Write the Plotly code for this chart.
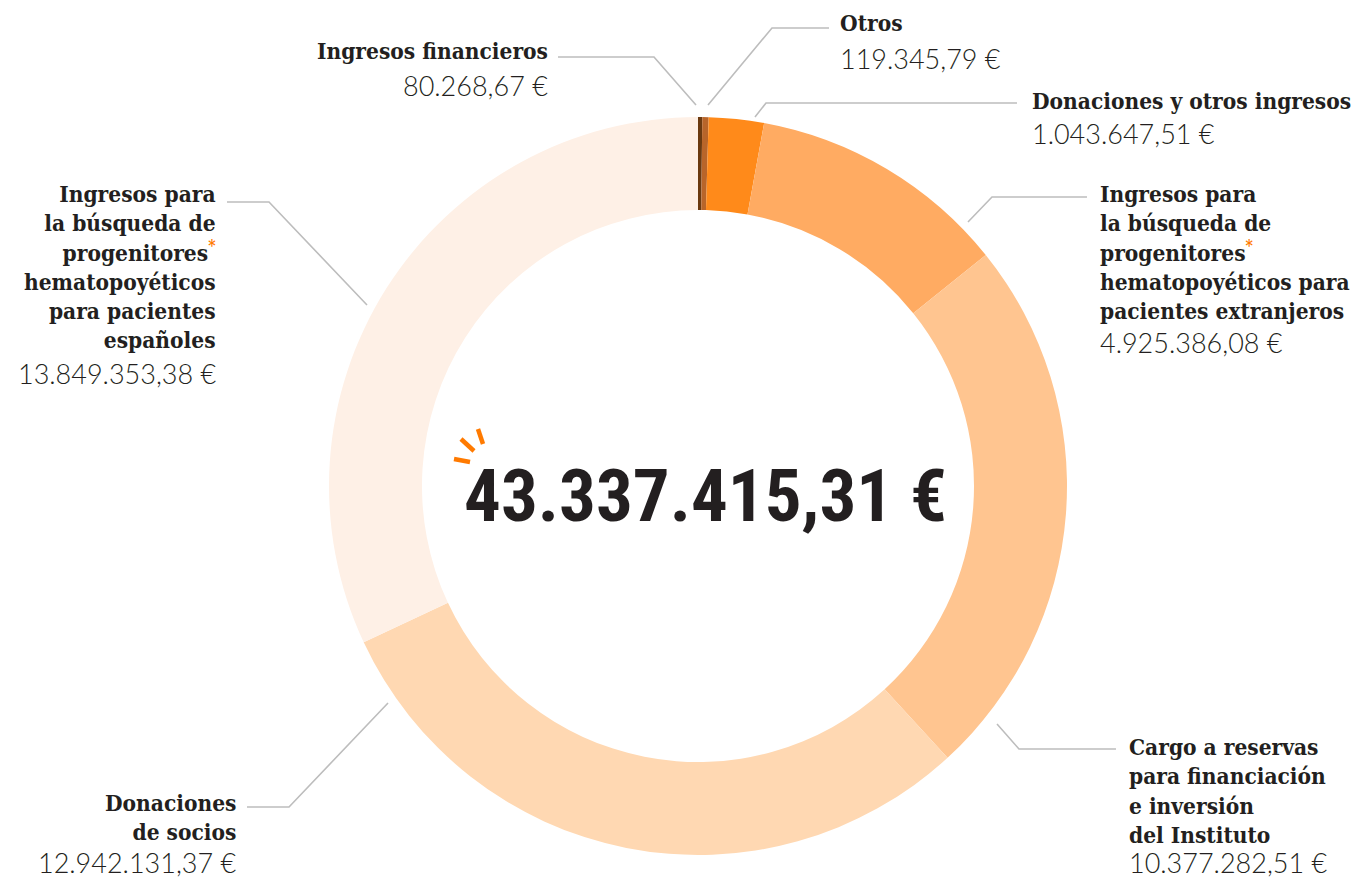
import plotly.graph_objects as go

# Datos: ingresos por concepto (sentido horario desde las 12)
AST = "<sup><span style='color:#FF7A00'>*</span></sup>"
categorias = [
    "Ingresos financieros",
    "Otros",
    "Donaciones y otros ingresos",
    f"Ingresos para<br>la búsqueda de<br>progenitores{AST}<br>hematopoyéticos para<br>pacientes extranjeros",
    "Cargo a reservas<br>para financiación<br>e inversión<br>del Instituto",
    "Donaciones<br>de socios",
    f"Ingresos para<br>la búsqueda de<br>progenitores{AST}<br>hematopoyéticos<br>para pacientes<br>españoles",
]
importes = [80268.67, 119345.79, 1043647.51, 4925386.08, 10377282.51, 12942131.37, 13849353.38]
colores = ["#6B3A10", "#B8652A", "#FF8A1A", "#FFAB62", "#FFC590", "#FFD8B2", "#FEF0E6"]

W, H = 1371, 881


def px2paper(x, y):
    return x / W, 1 - y / H


def euros(v):
    s = f"{v:,.2f}".replace(",", "X").replace(".", ",").replace("X", ".")
    return s + " €"


total = sum(importes)

# Geometría del anillo (en píxeles)
cx, cy, r = 698, 486, 369

fig = go.Figure(go.Pie(
    labels=[c.split("<br>")[0] + str(i) for i, c in enumerate(categorias)],
    values=importes,
    sort=False,
    direction="clockwise",
    rotation=0,
    hole=0.748,
    marker=dict(colors=colores, line=dict(width=0)),
    textinfo="none",
    hoverinfo="skip",
    showlegend=False,
    domain=dict(x=[(cx - r) / W, (cx + r) / W], y=[(H - cy - r) / H, (H - cy + r) / H]),
))

FONT_LABEL = dict(family="DejaVu Serif Condensed", size=22.5, color="#231F20", weight="bold")
FONT_VALOR = dict(family="Lato", size=27, color="#231F20", weight=300)

# Posición de cada etiqueta: (x, y superior de la etiqueta, anclaje, y del importe)
posiciones = [
    (550, 36, "right", 85),
    (838, 8, "left", 58),
    (1030, 86, "left", 134),
    (1098, 179, "left", 343),
    (1127, 732, "left", 862),
    (238, 788, "right", 862),
    (218, 179, "right", 374),
]

anotaciones = []
for cat, val, (x, y, anc, yv) in zip(categorias, importes, posiciones):
    xp, yp = px2paper(x, y)
    anotaciones.append(dict(
        x=xp, y=yp, xref="paper", yref="paper", text=f"<b>{cat}</b>",
        xanchor=anc, yanchor="top", align=anc, showarrow=False, font=FONT_LABEL,
    ))
    xp, yp = px2paper(x, yv)
    anotaciones.append(dict(
        x=xp, y=yp, xref="paper", yref="paper", text=euros(val),
        xanchor=anc, yanchor="middle", align=anc, showarrow=False, font=FONT_VALOR,
    ))

# Total en el centro
xp, yp = px2paper(705, 496)
anotaciones.append(dict(
    x=xp, y=yp, xref="paper", yref="paper", text=f"<b>{euros(total)}</b>",
    xanchor="center", yanchor="middle", showarrow=False,
    font=dict(family="Roboto Condensed, DejaVu Sans Condensed, sans-serif", size=73,
              color="#231F20", weight="bold"),
))

# Líneas guía
guias = [
    [(558, 57), (654, 57), (696, 105)],
    [(708, 105), (772, 28), (829, 28)],
    [(755, 117), (766, 103), (1017, 103)],
    [(968, 222), (992, 197), (1087, 197)],
    [(997, 724), (1019, 749), (1116, 749)],
    [(388, 703), (289, 807), (247, 807)],
    [(367, 305), (269, 202), (227, 202)],
]

shapes = []
for pts in guias:
    path = ""
    for i, (x, y) in enumerate(pts):
        xp, yp = px2paper(x, y)
        path += ("M" if i == 0 else " L") + f" {xp:.5f},{yp:.5f}"
    shapes.append(dict(type="path", path=path, xref="paper", yref="paper",
                       line=dict(color="#BDBDBD", width=1.6)))

# Destello naranja junto al total
destellos = [
    [(461, 439), (474, 451)],
    [(478, 429), (483, 444)],
    [(454, 459), (470, 462)],
]
for (x0, y0), (x1, y1) in destellos:
    a0, b0 = px2paper(x0, y0)
    a1, b1 = px2paper(x1, y1)
    shapes.append(dict(type="line", x0=a0, y0=b0, x1=a1, y1=b1, xref="paper", yref="paper",
                       line=dict(color="#FF7A00", width=4.5)))

fig.update_layout(
    width=W,
    height=H,
    margin=dict(t=0, b=0, l=0, r=0),
    paper_bgcolor="white",
    plot_bgcolor="white",
    annotations=anotaciones,
    shapes=shapes,
)

fig.write_html("out.html", config={"displayModeBar": False},
               post_script="document.body.style.margin='0px';")
